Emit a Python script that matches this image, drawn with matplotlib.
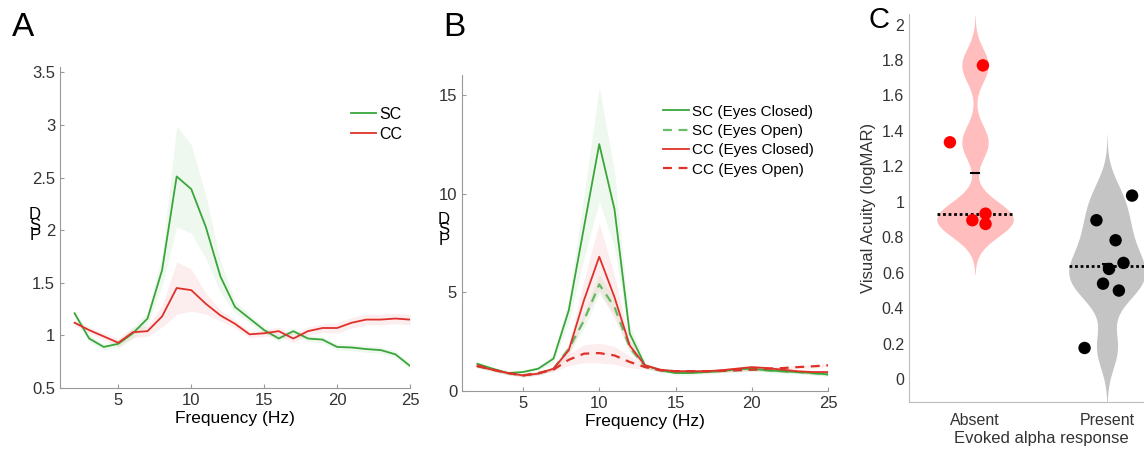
import numpy as np
import matplotlib
matplotlib.use("Agg")
import matplotlib.pyplot as plt

plt.rcParams['font.family'] = ['Liberation Sans', 'DejaVu Sans']

# ---- panel A data ----
freq = np.arange(2, 26)
sc_a = [1.21, 0.97, 0.89, 0.92, 1.02, 1.16, 1.62, 2.51, 2.39, 2.03, 1.56, 1.27,
        1.16, 1.05, 0.97, 1.04, 0.97, 0.96, 0.89, 0.885, 0.87, 0.86, 0.82, 0.71]
cc_a = [1.12, 1.05, 0.99, 0.93, 1.03, 1.04, 1.18, 1.45, 1.43, 1.30, 1.19, 1.11,
        1.01, 1.02, 1.04, 0.97, 1.04, 1.07, 1.07, 1.12, 1.15, 1.15, 1.16, 1.15]
sc_a_err = [0.03, 0.03, 0.03, 0.04, 0.05, 0.06, 0.15, 0.48, 0.42, 0.30, 0.15, 0.06,
            0.04, 0.03, 0.03, 0.03, 0.03, 0.03, 0.03, 0.03, 0.03, 0.03, 0.03, 0.03]
cc_a_err = [0.03, 0.03, 0.03, 0.04, 0.05, 0.05, 0.10, 0.25, 0.20, 0.10, 0.05, 0.04,
            0.03, 0.03, 0.04, 0.04, 0.04, 0.04, 0.05, 0.05, 0.05, 0.05, 0.05, 0.05]

# ---- panel B data ----
sc_closed = [1.38, 1.13, 0.91, 0.96, 1.13, 1.64, 4.08, 8.3, 12.5, 9.2, 2.9, 1.3,
             1.05, 0.91, 0.91, 0.96, 1.0, 1.1, 1.13, 1.05, 1.0, 0.96, 0.91, 0.84]
sc_open = [1.25, 1.08, 0.91, 0.79, 0.88, 1.13, 2.14, 3.57, 5.4, 4.25, 2.2, 1.25,
           1.05, 1.0, 1.0, 1.0, 1.02, 1.05, 1.08, 1.05, 1.0, 0.96, 0.9, 0.84]
cc_closed = [1.25, 1.08, 0.91, 0.79, 0.88, 1.13, 2.06, 4.6, 6.8, 4.75, 2.3, 1.3,
             1.08, 1.0, 1.0, 1.0, 1.05, 1.13, 1.21, 1.16, 1.08, 1.0, 0.96, 0.96]
cc_open = [1.3, 1.08, 0.91, 0.79, 0.91, 1.08, 1.58, 1.89, 1.92, 1.80, 1.47, 1.21,
           1.05, 1.0, 1.0, 1.0, 1.02, 1.05, 1.08, 1.13, 1.16, 1.21, 1.25, 1.3]
sc_closed_err = [0.1, 0.1, 0.1, 0.1, 0.1, 0.2, 0.6, 1.6, 2.9, 1.9, 0.5, 0.15,
                 0.1, 0.1, 0.1, 0.1, 0.1, 0.1, 0.1, 0.1, 0.1, 0.1, 0.1, 0.1]
sc_open_err = [0.08, 0.08, 0.08, 0.08, 0.08, 0.1, 0.2, 0.4, 0.5, 0.4, 0.2, 0.1,
               0.08, 0.08, 0.08, 0.08, 0.08, 0.08, 0.08, 0.08, 0.08, 0.08, 0.08, 0.08]
cc_closed_err = [0.08, 0.08, 0.08, 0.08, 0.08, 0.1, 0.3, 1.0, 1.7, 1.1, 0.3, 0.1,
                 0.08, 0.08, 0.08, 0.08, 0.08, 0.08, 0.08, 0.08, 0.08, 0.08, 0.08, 0.08]
cc_open_err = [0.08, 0.08, 0.08, 0.08, 0.08, 0.1, 0.3, 0.45, 0.5, 0.45, 0.3, 0.1,
               0.08, 0.08, 0.08, 0.08, 0.08, 0.08, 0.08, 0.08, 0.08, 0.08, 0.08, 0.08]

# ---- panel C data ----
groups = ["Absent", "Present"]
absent_va = [1.77, 1.336, 0.896, 0.933, 0.875]
absent_jit = [0.06, -0.19, -0.02, 0.08, 0.08]
present_va = [1.035, 0.896, 0.783, 0.655, 0.621, 0.538, 0.499, 0.175]
present_jit = [0.19, -0.08, 0.065, 0.125, 0.015, -0.03, 0.09, -0.17]

green = '#3aa63a'
red = '#e0302a'
spine_col = '#999999'
txt_col = '#333333'

fig = plt.figure(figsize=(11.44, 4.51), dpi=100)


def style(ax):
    for s in ['top', 'right']:
        ax.spines[s].set_visible(False)
    for s in ['left', 'bottom']:
        ax.spines[s].set_color(spine_col)
        ax.spines[s].set_linewidth(0.8)
    ax.tick_params(direction='in', length=3, color=spine_col, labelcolor=txt_col,
                   labelsize=12)


def violin(ax, vals, pos, color, bw=0.1, half=0.29):
    # gaussian kernel density, drawn past the data range like the original
    vals = np.asarray(vals)
    yy = np.linspace(vals.min() - 3 * bw, vals.max() + 3 * bw, 300)
    dens = np.exp(-0.5 * ((yy[:, None] - vals[None, :]) / bw) ** 2).sum(axis=1)
    w = dens / dens.max() * half
    ax.fill_betweenx(yy, pos - w, pos + w, color=color, lw=0, zorder=1)


# Panel A
axA = fig.add_axes([60/1144, 63/451, 350/1144, 321/451])
axA.fill_between(freq, np.array(sc_a) - sc_a_err, np.array(sc_a) + sc_a_err,
                 color=green, alpha=0.08, lw=0)
axA.fill_between(freq, np.array(cc_a) - cc_a_err, np.array(cc_a) + cc_a_err,
                 color=red, alpha=0.08, lw=0)
axA.plot(freq, sc_a, color=green, lw=1.3, label='SC')
axA.plot(freq, cc_a, color=red, lw=1.3, label='CC')
axA.set_xlim(1, 25)
axA.set_ylim(0.5, 3.55)
axA.set_xticks([5, 10, 15, 20, 25])
axA.set_yticks([0.5, 1, 1.5, 2, 2.5, 3, 3.5])
axA.set_yticklabels(['0.5', '1', '1.5', '2', '2.5', '3', '3.5'])
style(axA)
axA.set_xlabel('Frequency (Hz)', fontsize=12.5, labelpad=2)
axA.legend(loc='upper right', bbox_to_anchor=(1.02, 0.92), frameon=False,
           fontsize=11.5, handlelength=1.6, handletextpad=0.2, labelspacing=0.3)
fig.text(35/1144, 1 - 225/451, 'D\nS\nP', ha='center', va='center', fontsize=12,
         linespacing=0.65)
fig.text(12/1144, 1 - 27/451, 'A', fontsize=24, va='center')

# Panel B
axB = fig.add_axes([462/1144, 60/451, 366/1144, 316/451])
for y, e, c in [(sc_closed, sc_closed_err, green), (sc_open, sc_open_err, green),
                (cc_closed, cc_closed_err, red), (cc_open, cc_open_err, red)]:
    axB.fill_between(freq, np.array(y) - e, np.array(y) + e, color=c, alpha=0.08, lw=0)
axB.plot(freq, sc_closed, color=green, lw=1.3, label='SC (Eyes Closed)')
axB.plot(freq, sc_open, color=green, lw=1.6, ls=(0, (4, 3)), alpha=0.75,
         label='SC (Eyes Open)')
axB.plot(freq, cc_closed, color=red, lw=1.3, label='CC (Eyes Closed)')
axB.plot(freq, cc_open, color=red, lw=1.6, ls=(0, (4, 3)), label='CC (Eyes Open)')
axB.set_xlim(1, 25)
axB.set_ylim(0, 16)
axB.set_xticks([5, 10, 15, 20, 25])
axB.set_yticks([0, 5, 10, 15])
style(axB)
axB.set_xlabel('Frequency (Hz)', fontsize=12.5, labelpad=2)
axB.legend(loc='upper right', bbox_to_anchor=(1.0, 0.95), frameon=False,
           fontsize=11, handlelength=1.7, handletextpad=0.2, labelspacing=0.35)
fig.text(444/1144, 1 - 230/451, 'D\nS\nP', ha='center', va='center', fontsize=12,
         linespacing=0.65)
fig.text(443/1144, 1 - 27/451, 'B', fontsize=24, va='center')

# Panel C
axC = fig.add_axes([909/1144, 49/451, 264/1144, 388/451])
violin(axC, absent_va, 1, '#ffbdbd', bw=0.095)
violin(axC, present_va, 2, '#c4c4c4', bw=0.115)
axC.scatter(1 + np.array(absent_jit), absent_va, s=80, color='#ff0000', zorder=3,
            edgecolors='none')
axC.scatter(2 + np.array(present_jit), present_va, s=80, color='black', zorder=3,
            edgecolors='none')
for pos, vals in [(1, absent_va), (2, present_va)]:
    med = np.median(vals)
    axC.plot([pos - 0.29, pos + 0.29], [med, med], color='black', lw=2,
             ls=(0, (1, 1)), zorder=2)
    mn = np.mean(vals)
    axC.plot([pos - 0.03, pos + 0.03], [mn, mn], color='black', lw=1.5, zorder=2)
axC.set_xlim(0.5, 2.5)
axC.set_ylim(-0.13, 2.06)
axC.set_xticks([1, 2])
axC.set_xticklabels(groups)
axC.set_yticks(np.arange(0, 2.01, 0.2))
axC.set_yticklabels(['0', '0.2', '0.4', '0.6', '0.8', '1', '1.2', '1.4', '1.6', '1.8', '2'])
style(axC)
axC.spines['left'].set_color('#bbbbbb')
axC.spines['bottom'].set_color('#bbbbbb')
axC.tick_params(length=0, labelsize=11.5)
axC.tick_params(axis='x', pad=8)
axC.set_ylabel('Visual Acuity (logMAR)', fontsize=12, color=txt_col, labelpad=4)
axC.set_xlabel('Evoked alpha response', fontsize=12, color=txt_col, labelpad=2)
fig.text(869/1144, 1 - 20/451, 'C', fontsize=21, va='center')

fig.savefig('out.png', dpi=100)
